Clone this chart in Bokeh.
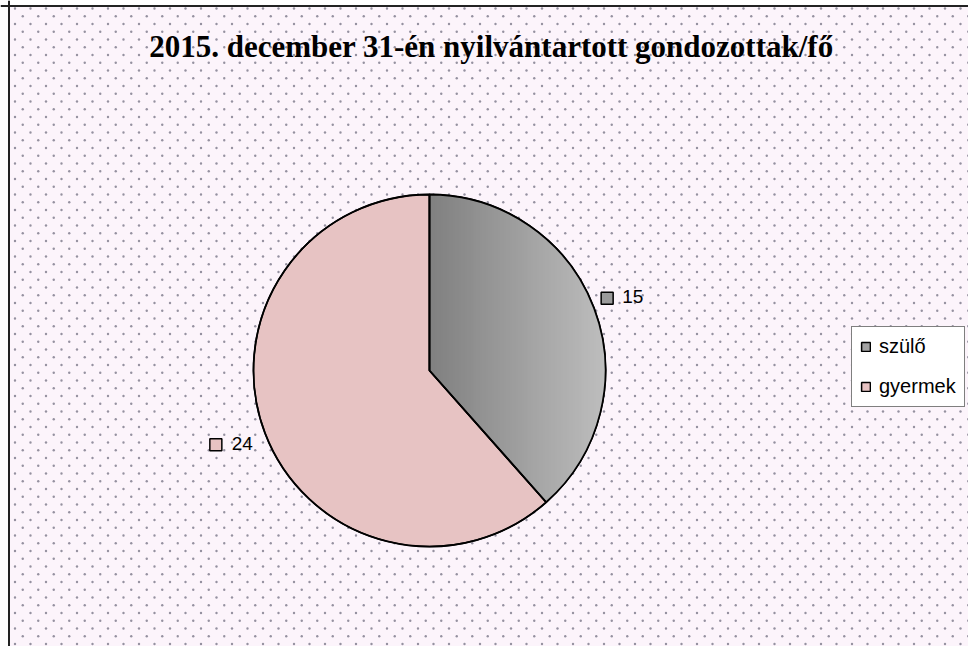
import numpy as np
from bokeh.plotting import figure
from bokeh.models import Range1d, BoxAnnotation, Label, Legend, LegendItem, Span, ColumnDataSource
from bokeh.core.properties import value
from bokeh.embed import file_html
from bokeh.resources import INLINE

# ---- data ----
categories = ["szülő", "gyermek"]
values = [15, 24]
slice_colors = ["#A2A2A2", "#E7C3C3"]
title_text = "2015. december 31-én nyilvántartott gondozottak/fő"

# ---- layout ----
W, H = 968, 646
CX, CY, R = 429, 276, 176
BG = "#FCF4FB"

p = figure(width=W, height=H, x_range=Range1d(0, W), y_range=Range1d(0, H),
           output_backend="svg", toolbar_location=None, min_border=0,
           x_axis_type=None, y_axis_type=None)
p.grid.visible = False
p.outline_line_color = None
p.background_fill_color = "white"
p.border_fill_color = "white"

# chart area background (left border at x=8, top border at y=5 from top)
p.add_layout(BoxAnnotation(left=9, top=H - 6, fill_color=BG, fill_alpha=1,
                           line_color=None, level="underlay"))

# dotted background texture (decorative lattice)
gx, gy = [], []
row = 0
yy = H - 8.0
while yy > 0:
    off = 0.0 if row % 2 == 0 else 7.75
    xx = 14.5 + off
    while xx < W:
        if xx > 10:
            gx.append(xx)
            gy.append(yy)
        xx += 15.5
    yy -= 7.75
    row += 1
p.scatter(x=gx, y=gy, marker="circle", size=2.4, fill_color="#8A8696", fill_alpha=0.9,
          line_color=None)

# frame lines (left/top)
p.add_layout(Span(location=8.5, dimension="height", line_color="#222222", line_width=2))
p.add_layout(Span(location=H - 5.5, dimension="width", line_color="#222222", line_width=2))

# ---- pie ----
total = float(sum(values))
ends = []
starts = []
a = np.pi / 2
for v in values:
    b = a - 2 * np.pi * v / total
    starts.append(b)
    ends.append(a)
    a = b

src = ColumnDataSource(dict(cat=categories, val=values, start=starts, end=ends, color=slice_colors))
r_pie = p.wedge(x=CX, y=CY, radius=R, start_angle="start", end_angle="end",
                fill_color="color", line_color="black", line_width=1.5, source=src)

# gradient on first slice (dark left -> light right)
def clip(poly, xmin, xmax):
    def clip_edge(pts, inside, inter):
        out = []
        n = len(pts)
        for i in range(n):
            cur, prev = pts[i], pts[i - 1]
            if inside(cur):
                if not inside(prev):
                    out.append(inter(prev, cur))
                out.append(cur)
            elif inside(prev):
                out.append(inter(prev, cur))
        return out

    def ix(xc):
        def f(p0, p1):
            t = (xc - p0[0]) / (p1[0] - p0[0])
            return (xc, p0[1] + t * (p1[1] - p0[1]))
        return f
    pts = clip_edge(poly, lambda q: q[0] >= xmin, ix(xmin))
    if not pts:
        return pts
    pts = clip_edge(pts, lambda q: q[0] <= xmax, ix(xmax))
    return pts

arc = np.linspace(ends[0], starts[0], 200)
sector = [(CX, CY)] + [(CX + R * np.cos(t), CY + R * np.sin(t)) for t in arc]
xs, ys, cols = [], [], []
step = 3
x0 = CX - 1
while x0 < CX + R + 1:
    piece = clip(sector, x0, x0 + step + 0.6)
    if len(piece) >= 3:
        frac = (x0 - CX) / R
        g = int(round(0x80 + (0xBE - 0x80) * min(max(frac, 0), 1)))
        xs.append([q[0] for q in piece])
        ys.append([q[1] for q in piece])
        cols.append("#%02x%02x%02x" % (g, g, g))
    x0 += step
p.patches(xs=xs, ys=ys, fill_color=cols, line_color=None)

# outline on top
p.wedge(x=CX, y=CY, radius=R, start_angle="start", end_angle="end",
        fill_color=None, line_color="black", line_width=1.8, source=src)

# ---- data labels ----
mids = [(s + e) / 2 for s, e in zip(starts, ends)]
lab_r = R + 14
FONT = "Liberation Sans"
for i, (m, v, c) in enumerate(zip(mids, values, slice_colors)):
    ax = CX + lab_r * np.cos(m)
    ay = CY + lab_r * np.sin(m)
    if np.cos(m) >= 0:
        p.text(x=[ax + 15], y=[ay + 7], text=[str(v)], text_font=value(FONT),
               text_font_size="19px", text_align="left", text_baseline="middle", text_color="black")
        sq_x, sq_y = ax, ay + 5
    else:
        p.text(x=[ax + 1], y=[ay - 6], text=[str(v)], text_font=value(FONT),
               text_font_size="19px", text_align="right", text_baseline="middle", text_color="black")
        sq_x, sq_y = ax - 36, ay - 7
    p.scatter(x=[sq_x], y=[sq_y], marker="square", size=12, fill_color=c if i else "#9a9a9a",
              line_color="black", line_width=1.5)

# ---- legend ----
legend = Legend(items=[LegendItem(label=categories[i], renderers=[r_pie], index=i) for i in range(len(categories))],
                location=(851, 239), orientation="vertical",
                label_text_font=FONT, label_text_font_size="20px", label_text_color="black",
                glyph_width=11, glyph_height=11, label_height=22, label_standoff=8,
                spacing=17, padding=8, margin=0,
                border_line_color="black", border_line_width=1.2,
                background_fill_color="white", background_fill_alpha=1)
p.add_layout(legend)

# ---- title ----
p.add_layout(Label(x=491, y=H - 46, x_units="screen", y_units="screen", text=title_text,
                   text_font="Liberation Serif", text_font_style="bold", text_font_size="31px",
                   text_align="center", text_baseline="middle", text_color="black"))

open("out.html", "w").write(file_html(p, INLINE))
